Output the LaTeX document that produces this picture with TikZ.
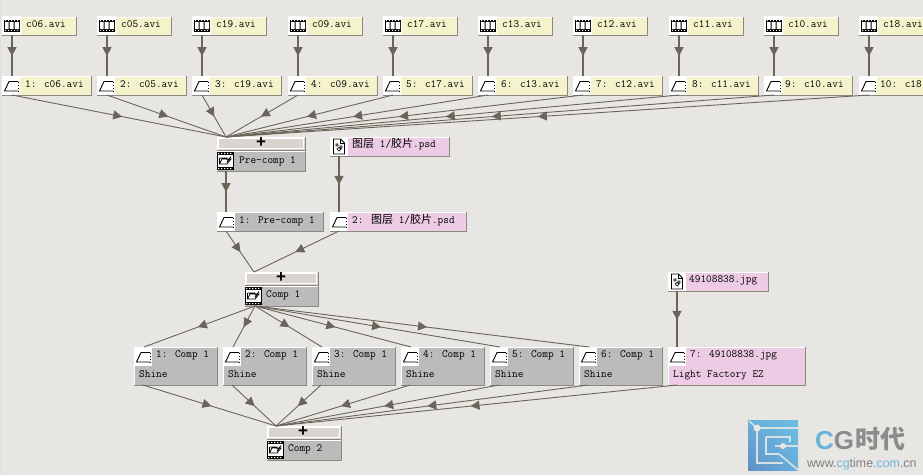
\documentclass[tikz,border=0pt]{standalone}
\usepackage{fontspec}
\usetikzlibrary{arrows.meta,decorations.markings,shadings}
\newfontfamily\cjk{Noto Sans CJK SC}
\newfontfamily\lsans{Liberation Sans}
\definecolor{bgc}{HTML}{E8E6E2}
\definecolor{foot}{HTML}{F5F3CC}
\definecolor{pinkc}{HTML}{EDCBE4}
\definecolor{grayc}{HTML}{BBBBBB}
\definecolor{plusc}{HTML}{D9D4CD}
\definecolor{edgec}{HTML}{8A887F}
\definecolor{linec}{HTML}{69655A}
\definecolor{logoA}{HTML}{6CBDE3}
\definecolor{logoB}{HTML}{5F8FC6}
\tikzset{
  bxs/.style={inner sep=0pt,outer sep=0pt,draw=none},
  lbl/.style={inner sep=0pt,anchor=base west,text=black,yshift=1pt,font=\fontsize{11}{11}\selectfont\ttfamily},
  plusmark/.style={bxs,font=\bfseries\fontsize{17}{17}\selectfont\lsans},
  conn/.style={draw=linec,line width=.9pt,postaction={decorate},
    decoration={markings,mark=at position .515 with {\arrow[linec]{Triangle[length=9pt,width=9pt]}}}},
  vconn/.style={conn,line width=1.2pt},
  icon/.style={fill=white,draw=none},
  ink/.style={draw=black,line width=.9pt}
}
\newcommand\bx[6]{%
  \node[bxs,fill=#6,minimum width={(#4-#2)*1pt},minimum height={(#5-#3)*1pt}] (#1) at ({(#2+#4)/2},{(#3+#5)/2}) {};
  \draw[white,line width=1pt] (#1.south west)--(#1.north west)--(#1.north east);
  \draw[edgec,line width=1pt] (#1.south west)--(#1.south east)--(#1.north east);}
\newcommand\plusbar[5]{%
  \bx{#1}{#2}{#3}{#4}{#5}{plusc}
  \draw[white,line width=.8pt] ([shift={(1.5pt,1.5pt)}]#1.south west) rectangle ([shift={(-1.5pt,-1.5pt)}]#1.north east);}
\newcommand\filmicon[2]{\begin{scope}[shift={(#1,#2)}]
  \fill[icon] (0,0) rectangle (19,19);
  \fill[black] (2,3.5) rectangle (18,15.5);
  \fill[white] (3,6) rectangle (6.5,13) (7.5,6) rectangle (11.5,13) (12.5,6) rectangle (17,13);
  \foreach \i in {3,6,9,12,15}{\fill[white] (\i,4.2) rectangle ++(1.2,.8) (\i,14) rectangle ++(1.2,.8);}
\end{scope}}
\newcommand\layericon[2]{\begin{scope}[shift={(#1,#2)}]
  \fill[icon] (0,0) rectangle (18,19);
  \draw[ink] (16,15)--(2.5,15)--(7,5.5)--(16,5.5);
  \draw[ink,dash pattern=on 1.5pt off 1.5pt] (16,5.5)--(16,15);
\end{scope}}
\newcommand\compicon[2]{\begin{scope}[shift={(#1,#2)}]
  \fill[black] (1,1) rectangle (18,19);
  \fill[white] (2,4) rectangle (17,16);
  \foreach \i in {2,5,8,11,14}{\fill[white] (\i,1.8) rectangle ++(1.4,1.2) (\i,17) rectangle ++(1.4,1.2);}
  \draw[ink,line width=.8pt] (3.5,7)--(11,7)--(11,9) (3.5,7)--(3.5,13)--(11,13)--(15,8)--(6,8)--(3.5,13) (15,5.5)--(11,11);
\end{scope}}
\newcommand\fileicon[2]{\begin{scope}[shift={(#1,#2)}]
  \fill[icon] (0,0) rectangle (18,19);
  \draw[ink,fill=white] (3.5,2)--(10.5,2)--(14.5,6)--(14.5,17)--(3.5,17)--cycle;
  \draw[ink,line width=.7pt] (10.5,2)--(10.5,6)--(14.5,6);
  \draw[black,line width=.7pt] (6,7) rectangle ++(2,2) (10,9) rectangle ++(2,2) (7,12)--(9,14)--(11,12)--(9,10.5)--cycle;
\end{scope}}
\begin{document}
\begin{tikzpicture}[x=1pt,y=-1pt]
\useasboundingbox (0,0) rectangle (923,475);
\fill[bgc] (0,0) rectangle (923,475);
\clip (0,0) rectangle (923,475);
\draw[white!75!gray,line width=1pt] (0.5,0)--(0.5,475);
% footage and layer row
\foreach \n/\x/\na/\xr/\lab/\xu in {1/2/c06/91/c06.avi/25,2/97/c05/186/c05.avi/120,3/192/c19/281/c19.avi/215,4/288/c09/377/c09.avi/311,5/383/c17/472/c17.avi/406,6/478/c13/567/c13.avi/501,7/573/c12/662/c12.avi/596,8/669/c11/758/c11.avi/692,9/764/c10/852/c10.avi/785,10/859/c18/960/c18/880}{
  \pgfmathsetmacro\xa{\x+74}
  \bx{f\n}{\x}{17}{\xa}{35}{foot}
  \filmicon{\x}{16}
  \pgfmathsetmacro\xt{\x+24}
  \node[lbl] (ft\n) at (\xt,28) {\na.avi};
  \bx{l\n}{\x}{76}{\xr}{95}{foot}
  \layericon{\x}{76}
  \node[lbl] (lt\n) at (\xu,88) {\n: \lab};
}
% Pre-comp 1
\plusbar{pp}{217}{137}{305}{150}
\node[plusmark] (ppt) at (261,143) {+};
\bx{pc}{217}{151}{305}{171}{grayc}
\compicon{216}{151}
\node[lbl] (pct) at (239,164) {Pre-comp 1};
% psd footage
\bx{fp}{330}{137}{449}{156}{pinkc}
\fileicon{330}{137}
\node[lbl] (fpt) at (352,148) {{\cjk 图层} 1/{\cjk 胶片}.psd};
% second level layers
\bx{la}{217}{212}{323}{231}{grayc}
\layericon{217}{212}
\node[lbl] (lat) at (239,224) {1: Pre-comp 1};
\bx{lb}{330}{212}{466}{231}{pinkc}
\layericon{330}{212}
\node[lbl] (lbt) at (352,224) {2: {\cjk 图层} 1/{\cjk 胶片}.psd};
% Comp 1
\plusbar{cp}{245}{272}{318}{285}
\node[plusmark] (cpt) at (281,278) {+};
\bx{c1}{245}{286}{318}{306}{grayc}
\compicon{244}{286}
\node[lbl] (c1t) at (266,298) {Comp 1};
% jpg footage
\bx{fj}{668}{272}{768}{291}{pinkc}
\fileicon{668}{272}
\node[lbl] (fjt) at (689,283.5) {49108838.jpg};
% Shine layers
\foreach \n/\x/\xr in {1/134/217,2/223/306,3/312/395,4/401/484,5/490/573,6/579/662}{
  \bx{s\n}{\x}{347}{\xr}{385}{grayc}
  \layericon{\x}{347}
  \pgfmathsetmacro\xu{\x+22}
  \pgfmathsetmacro\xv{\x+5}
  \node[lbl] (st\n) at (\xu,358) {\n: Comp 1};
  \node[lbl] (sf\n) at (\xv,378) {Shine};
}
\bx{s7}{668}{347}{805}{385}{pinkc}
\layericon{668}{347}
\node[lbl] (st7) at (690,358) {7: 49108838.jpg};
\node[lbl] (sf7) at (673,378) {Light Factory EZ};
% Comp 2
\plusbar{dp}{267}{426}{341}{439}
\node[plusmark] (dpt) at (303,432) {+};
\bx{c2}{267}{440}{341}{460}{grayc}
\compicon{266}{440}
\node[lbl] (c2t) at (288,452) {Comp 2};
% connectors
\foreach \n in {1,...,10}{
  \draw[vconn] ([xshift=10pt]f\n.south west)--([xshift=10pt]l\n.north west);
  \draw[conn] ([xshift=10pt]l\n.south west)--([xshift=9pt]pp.north west);
}
\draw[vconn] ([xshift=9pt]pc.south west)--([xshift=9pt]la.north west);
\draw[vconn] ([xshift=9pt]fp.south west)--([xshift=9pt]lb.north west);
\draw[conn] ([xshift=9pt]la.south west)--([xshift=9pt]cp.north west);
\draw[conn] ([xshift=9pt]lb.south west)--([xshift=9pt]cp.north west);
\foreach \n in {1,...,6}{
  \draw[conn] ([xshift=10pt]c1.south west)--([xshift=10pt]s\n.north west);
}
\draw[vconn] ([xshift=9pt]fj.south west)--([xshift=9pt]s7.north west);
\foreach \n in {1,...,7}{
  \draw[conn] ([xshift=9pt]s\n.south west)--([xshift=9pt]dp.north west);
}
% watermark logo
\shade[lower left=logoB,upper right=logoA,upper left=logoA!70!logoB,lower right=logoA!70!logoB] (748,420) rectangle (798,470);
\begin{scope}[draw=bgc!85!logoA,line width=2.6pt]
  \draw[line width=1.6pt] (749,421)--(757,428);
  \draw (757,428)--(798,428);
  \draw (757,428)--(757,463)--(783,463);
  \draw (766,437)--(790,437)--(790,442) (766,437)--(766,454)--(779,454);
  \draw[line width=1.6pt] (779,454)--(798,470);
  \draw (775,446)--(798,446);
  \fill[bgc] (757,428) circle (3.5);
  \fill[bgc] (783,446) circle (3);
\end{scope}
\node[bxs,anchor=base west,font=\lsans\bfseries\fontsize{26}{26}\selectfont] (cgt) at (815,449) {\textcolor{logoA!80!logoB}{C}\textcolor{gray!90}{G}};
\node[bxs,anchor=base west,font=\cjk\bfseries\fontsize{25}{25}\selectfont,text=gray!90] (cgz) at (855,448) {时代};
\node[bxs,anchor=base west,font=\lsans\fontsize{12.4}{13}\selectfont,text=gray] (cgu) at (807,467) {www.\textcolor{logoA!80!logoB}{cg}time\textcolor{logoA!80!logoB}{.com}.cn};
\end{tikzpicture}
\end{document}
